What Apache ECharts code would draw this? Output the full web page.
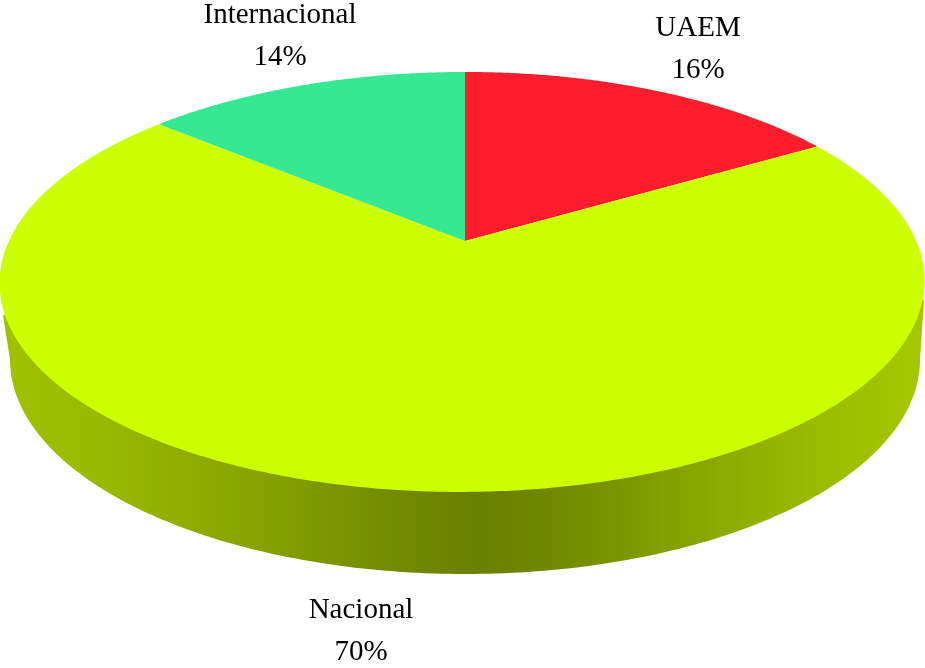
<!DOCTYPE html>
<html>
<head>
<meta charset="utf-8">
<style>
  html, body { margin: 0; padding: 0; background: #fff; }
  #main { width: 925px; height: 668px; }
</style>
</head>
<body>
<div id="main"></div>
<script src="https://cdn.jsdelivr.net/npm/echarts@6/dist/echarts.min.js"></script>
<script>
var categories = ['UAEM', 'Nacional', 'Internacional'];
var shares = [16.4, 69.9, 13.7];
var sliceColors = ['#FF1C2C', '#CCFF00', '#36E892'];

// label centre x and first line y, same order as categories
var labelAnchors = [[698, 28], [361, 610], [280, 15]];
var total = shares.reduce(function (a, b) { return a + b; }, 0);

// top face: a circle seen in perspective, apex is the projected centre
var apexX = 465, apexY = 241, faceA = 453.6, faceB = 202, persp = 0.195;
function rim(theta) {
  var u = Math.sin(theta), v = Math.cos(theta), d = 1 + persp * v;
  return [apexX + faceA * u / d - 2.5 * (1 - v), apexY - faceB * v / d];
}

// outline of the lower edge of the side wall
var baseX = 465, baseY = 359.4, baseA = 455, baseB = 214.6;
function wallShape() {
  var pts = [[924, 300]];
  for (var i = 0; i <= 180; i++) {
    var t = Math.PI * i / 180;
    pts.push([baseX + baseA * Math.cos(t), baseY + baseB * Math.sin(t)]);
  }
  pts.push([3, 315]);
  return pts;
}

var wallFill = new echarts.graphic.LinearGradient(0, 0, 925, 0, [
  { offset: 0.0, color: '#A0C200' },
  { offset: 0.10, color: '#9ABA00' },
  { offset: 0.20, color: '#90AD00' },
  { offset: 0.30, color: '#849F00' },
  { offset: 0.38, color: '#799200' },
  { offset: 0.46, color: '#6F8600' },
  { offset: 0.52, color: '#6A8000' },
  { offset: 0.58, color: '#6F8600' },
  { offset: 0.66, color: '#7A9400' },
  { offset: 0.74, color: '#86A300' },
  { offset: 0.82, color: '#92B100' },
  { offset: 0.90, color: '#9CBE00' },
  { offset: 1.0, color: '#A4C800' }
], true);

function renderSlice(params, api) {
  var idx = params.dataIndex;
  var before = 0;
  for (var i = 0; i < idx; i++) before += shares[i];
  var start = before / total * Math.PI * 2;
  var end = (before + api.value(0)) / total * Math.PI * 2;

  var pts = [[apexX, apexY]];
  var steps = Math.ceil((end - start) / (Math.PI / 360));
  for (var s = 0; s <= steps; s++) {
    pts.push(rim(start + (end - start) * s / steps));
  }

  var children = [];
  // only the big slice reaches the front, so it carries the side wall
  if (end - start > Math.PI) {
    children.push({ type: 'polygon', shape: { points: wallShape() }, style: { fill: wallFill } });
  }
  children.push({
    type: 'polygon',
    shape: { points: pts },
    style: { fill: sliceColors[idx] }
  });
  children.push({
    type: 'text',
    x: labelAnchors[idx][0],
    y: labelAnchors[idx][1] - 21,
    style: {
      text: categories[idx] + '\n' + Math.round(api.value(0) / total * 100) + '%',
      fill: '#000',
      font: '29px "Liberation Serif"',
      lineHeight: 42,
      align: 'center',
      verticalAlign: 'top'
    }
  });
  return { type: 'group', children: children };
}

var myChart = echarts.init(document.getElementById('main'));
myChart.setOption({
  animation: false,
  backgroundColor: '#fff',
  series: [{
    type: 'custom',
    coordinateSystem: 'none',
    silent: true,
    renderItem: renderSlice,
    data: shares.map(function (v) { return [v]; })
  }]
});
</script>
</body>
</html>
